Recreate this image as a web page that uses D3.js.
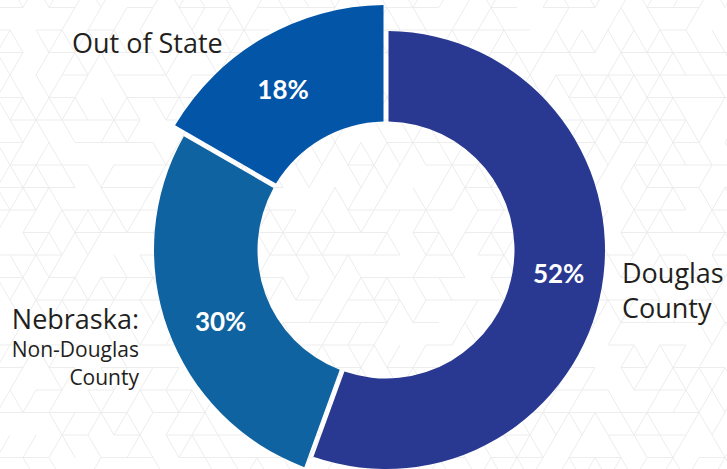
<!DOCTYPE html>
<html>
<head>
<meta charset="utf-8">
<script src="https://cdn.jsdelivr.net/npm/d3@7"></script>
<style>
  html, body { margin: 0; padding: 0; background: #ffffff; }
  svg { display: block; }
</style>
</head>
<body>
<svg id="chart" width="727" height="469"></svg>
<script>
// ---- data ----
const categories = ["Douglas County", "Nebraska: Non-Douglas County", "Out of State"];
const percentLabels = [52, 30, 18];          // printed values
const arcSweepDegrees = [200, 100, 60];      // angular size of each slice as drawn
const sliceColors = ["#293991", "#0f63a0", "#0355a7"];

const W = 727, H = 469;
const svg = d3.select("#chart");

// ---- background: light triangular lattice with some segments left out ----
const bg = svg.append("g").attr("stroke", "#ededed").attr("stroke-width", 1).attr("fill", "none");
const side = 26, rowH = 22.5;
function keep(k, m, dir) {
  let h = (k * 374761393 + m * 668265263 + dir * 2147483647) >>> 0;
  h = (h ^ (h >>> 13)) >>> 0;
  h = Math.imul(h, 1274126177) >>> 0;
  h = (h ^ (h >>> 16)) >>> 0;
  return (h % 100) < 60;
}
const segs = [];
for (let k = -1; k < 23; k++) {
  const y = 7.5 + rowH * k;
  const off = ((k + 1) % 2 + 2) % 2 === 0 ? 10 : 23;
  for (let m = -2; m < 32; m++) {
    const x = off + side * m - side;
    if (keep(k, m, 0)) segs.push([x, y, x + side, y]);
    if (keep(k, m, 1)) segs.push([x, y, x - side / 2, y + rowH]);
    if (keep(k, m, 2)) segs.push([x, y, x + side / 2, y + rowH]);
  }
}
bg.selectAll("line").data(segs).join("line")
  .attr("x1", d => d[0]).attr("y1", d => d[1])
  .attr("x2", d => d[2]).attr("y2", d => d[3]);

// ---- donut ----
const cx = 386, cy = 250;
const innerR = 128.5;
const outerScale = d3.scaleLinear().domain([0, 2]).range([219, 245]);

const rows = categories.map((c, i) => ({ cat: c, pct: percentLabels[i], sweep: arcSweepDegrees[i], i }));
const pie = d3.pie().sort(null).value(d => d.sweep).startAngle(0).endAngle(2 * Math.PI);
const arcs = pie(rows);

const g = svg.append("g").attr("transform", `translate(${cx},${cy})`);
const arcGen = d => d3.arc()
  .innerRadius(innerR)
  .outerRadius(outerScale(d.data.i))
  .padAngle(0.025)
  .padRadius(200);

g.selectAll("path.slice").data(arcs).join("path")
  .attr("class", "slice")
  .attr("fill", (d, i) => sliceColors[i])
  .attr("d", d => arcGen(d)(d));

// labels sit slightly counter-clockwise of the slice middle
const labelShift = 0.06;
g.selectAll("text.pct").data(arcs).join("text")
  .attr("class", "pct")
  .attr("transform", d => {
    const c = arcGen(d).centroid({ startAngle: d.startAngle - labelShift, endAngle: d.endAngle - labelShift });
    return `translate(${c[0]},${c[1] + (d.data.i === 2 ? -5 : d.data.i === 0 ? 4 : 0)})`;
  })
  .attr("text-anchor", "middle")
  .attr("dy", "0.36em")
  .attr("fill", "#ffffff")
  .attr("font-family", "Lato, 'Open Sans', sans-serif")
  .attr("font-weight", 700)
  .attr("font-size", 26)
  .text(d => d.data.pct + "%");

// ---- category labels ----
const txt = svg.append("g")
  .attr("fill", "#231f20")
  .attr("font-weight", 400)
  .attr("font-family", "'Open Sans', Lato, sans-serif");

txt.append("text").attr("x", 72).attr("y", 53).attr("font-size", 27).text(categories[2]);

const dc = categories[0].split(" ");
txt.append("text").attr("x", 622).attr("y", 283).attr("font-size", 27).text(dc[0]);
txt.append("text").attr("x", 622).attr("y", 318).attr("font-size", 27).text(dc[1]);

const nb = categories[1].split(" ");
txt.append("text").attr("x", 139).attr("y", 329).attr("text-anchor", "end").attr("font-size", 27).text(nb[0]);
txt.append("text").attr("x", 139).attr("y", 357).attr("text-anchor", "end").attr("font-size", 21).text(nb[1]);
txt.append("text").attr("x", 139).attr("y", 385).attr("text-anchor", "end").attr("font-size", 21).text(nb[2]);
</script>
</body>
</html>
